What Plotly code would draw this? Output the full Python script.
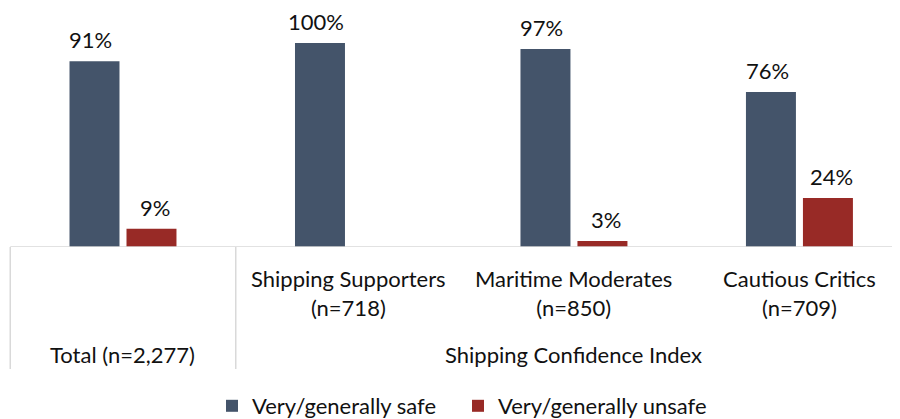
import plotly.graph_objects as go

categories = ["Total (n=2,277)", "Shipping Supporters<br>(n=718)", "Maritime Moderates<br>(n=850)", "Cautious Critics<br>(n=709)"]
group_label = "Shipping Confidence Index"
safe = [91, 100, 97, 76]
unsafe = [9, 0, 3, 24]
series_names = ["Very/generally safe", "Very/generally unsafe"]
colors = ["#44546A", "#982A26"]

x = list(range(len(categories)))
FONT = "Lato"
FS = 22
TXT = "#111111"

# figure is offset by the 8px page body margin; design in figure coords
W, H = 892, 411
PLOT_BOTTOM = 239  # figure px of the baseline

fig = go.Figure()
for vals, name, col, lg in zip([safe, unsafe], series_names, colors, ["legend", "legend2"]):
    fig.add_trace(go.Bar(x=x, y=vals, name=name, legend=lg,
                         marker=dict(color=col, line=dict(width=0))))

def py(page_y):
    """page pixel y -> paper coordinate"""
    fy = page_y - 8
    return (PLOT_BOTTOM - fy) / PLOT_BOTTOM

def px(page_x):
    return (page_x - 8) / W

ann = []
for vals, shift in zip([safe, unsafe], [-32, 32]):
    for xi, v in zip(x, vals):
        if v == 0:
            continue
        ann.append(dict(x=xi, y=v, xref="x", yref="y", text=f"{v}%", showarrow=False,
                        xshift=shift, yshift=21.5, yanchor="middle", borderpad=0,
                        font=dict(family=FONT, size=FS, color=TXT)))
for xi, c in zip(x, categories):
    yy = py(354) if xi == 0 else py(293)
    ann.append(dict(x=xi, y=yy, xref="x", yref="paper", text=c, showarrow=False,
                    yanchor="middle", font=dict(family=FONT, size=FS, color=TXT)))
ann.append(dict(x=2, y=py(354), xref="x", yref="paper", text=group_label, showarrow=False,
                yanchor="middle", font=dict(family=FONT, size=FS, color=TXT)))

LC = "#d9d9d9"
shapes = [
    dict(type="line", xref="x", yref="y", x0=-0.5, x1=3.5, y0=0, y1=0,
         line=dict(color=LC, width=1.5)),
    dict(type="line", xref="x", yref="paper", x0=-0.5, x1=-0.5, y0=0, y1=py(369),
         line=dict(color=LC, width=1.5)),
    dict(type="line", xref="x", yref="paper", x0=0.5, x1=0.5, y0=0, y1=py(369),
         line=dict(color=LC, width=1.5)),
]

leg_common = dict(orientation="h", xanchor="left", y=py(406), yanchor="middle",
                  font=dict(family=FONT, size=FS, color=TXT), itemwidth=30,
                  bgcolor="rgba(0,0,0,0)")

fig.update_layout(
    width=W, height=H,
    margin=dict(l=0, r=0, t=0, b=H - PLOT_BOTTOM, autoexpand=False),
    plot_bgcolor="white", paper_bgcolor="white",
    barmode="group", bargap=0.4945, bargroupgap=0.123,
    xaxis=dict(range=[-0.510, 3.446], showticklabels=False, showgrid=False,
               zeroline=False, showline=False, ticks=""),
    yaxis=dict(range=[0, 239 / 2.04], visible=False, showgrid=False, zeroline=False),
    annotations=ann, shapes=shapes,
    showlegend=True,
    legend=dict(x=px(226 - 14), **leg_common),
    legend2=dict(x=px(472 - 14), **leg_common),
    font=dict(family=FONT, color=TXT),
)

fig.write_html("out.html")
